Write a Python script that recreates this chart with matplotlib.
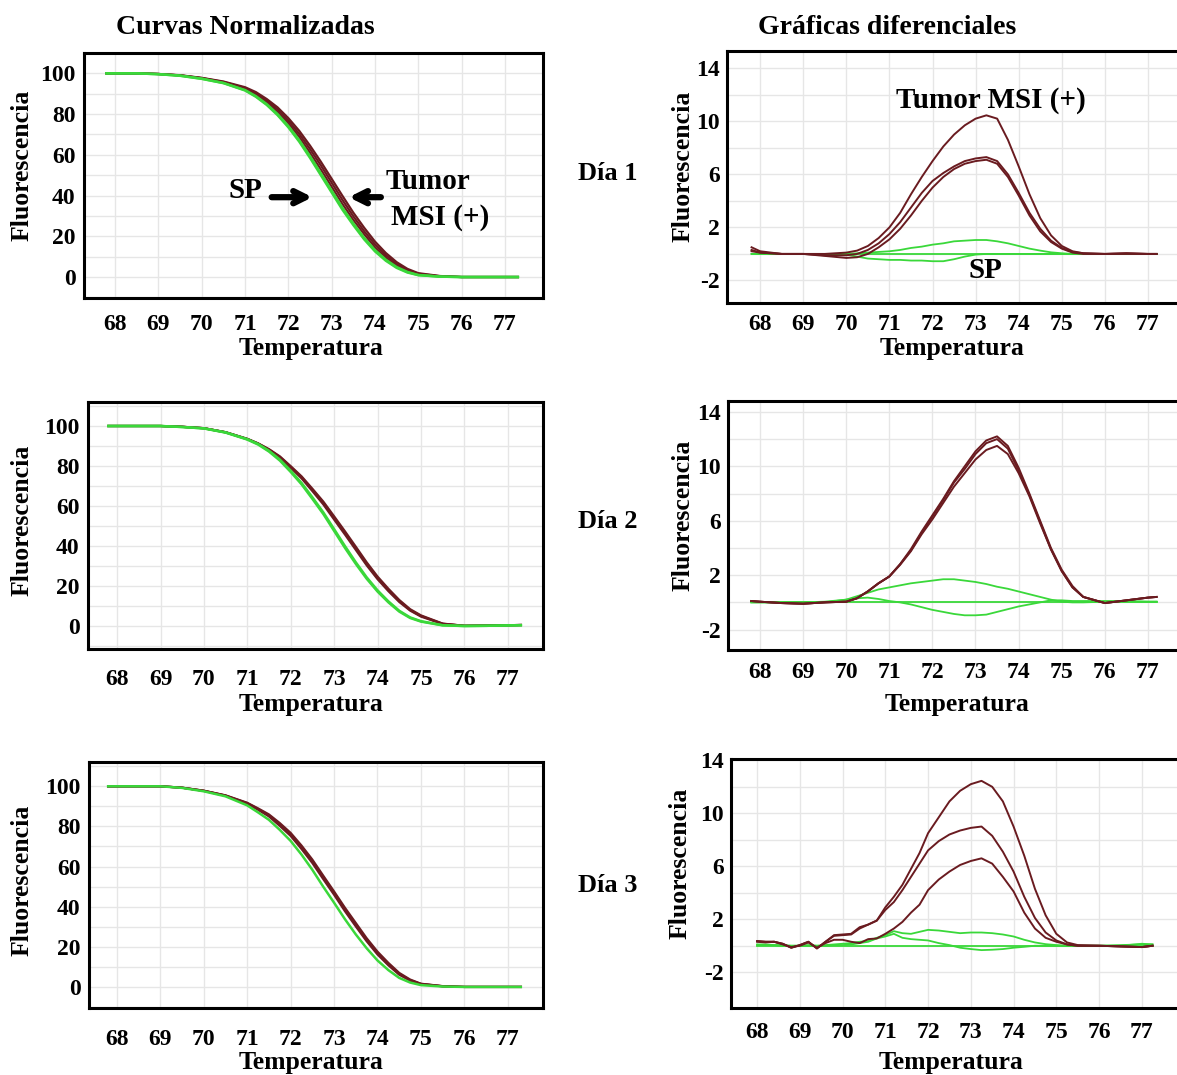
import matplotlib
matplotlib.use("Agg")
import matplotlib.pyplot as plt

plt.rcParams['font.family'] = ['Liberation Serif', 'DejaVu Serif']
plt.rcParams['font.weight'] = 'bold'
plt.rcParams['axes.labelweight'] = 'bold'
plt.rcParams['axes.unicode_minus'] = False

W, H = 1177, 1075
BROWN = '#6a1b20'
GREEN = '#3ad83a'

# ------------------ data: normalized curves ------------------ #
temp_norm = [67.8, 68.5, 69.0, 69.5, 70.0, 70.5, 71.0, 71.25, 71.5, 71.75, 72.0, 72.25, 72.5,
             72.75, 73.0, 73.25, 73.5, 73.75, 74.0, 74.25, 74.5, 74.75, 75.0, 75.5, 76.0, 76.5, 77.3]

norm_d1_sp = [
    [100, 100, 99.6, 98.8, 97.3, 95.2, 91.6, 88.5, 84.5, 79.5, 73.5, 66.5, 58.5, 50.0, 41.5, 33.0, 25.5, 18.5, 12.6, 8.0, 4.5, 2.2, 0.9, 0.2, 0, 0, 0],
    [100, 100, 99.6, 98.9, 97.4, 95.3, 91.8, 88.8, 84.9, 80.0, 74.1, 67.2, 59.3, 50.9, 42.4, 33.9, 26.3, 19.2, 13.2, 8.5, 4.9, 2.5, 1.0, 0.2, 0, 0, 0],
]
norm_d1_msi = [
    [100, 100, 99.7, 99.0, 97.6, 95.6, 92.4, 89.6, 85.8, 81.2, 75.5, 68.8, 61.0, 52.8, 44.3, 35.8, 28.0, 21.0, 14.6, 9.6, 5.7, 3.0, 1.3, 0.3, 0, 0, 0],
    [100, 100, 99.7, 99.0, 97.7, 95.8, 92.8, 90.2, 86.6, 82.3, 76.8, 70.3, 62.8, 54.8, 46.3, 37.8, 29.8, 22.5, 16.0, 10.7, 6.5, 3.5, 1.6, 0.4, 0, 0, 0],
    [100, 100, 99.7, 99.1, 97.8, 96.0, 93.2, 90.8, 87.4, 83.3, 78.0, 71.8, 64.5, 56.6, 48.2, 39.8, 31.6, 24.2, 17.4, 11.8, 7.3, 4.0, 1.9, 0.5, 0, 0, 0],
]

norm_d2_sp = [
    [100, 100, 100, 99.5, 98.8, 96.7, 93.2, 90.7, 87.2, 82.7, 77.0, 70.8, 63.5, 56.0, 47.5, 39.0, 31.0, 23.6, 17.2, 11.8, 7.2, 4.0, 2.2, 0.3, 0, 0.1, 0.4],
    [100, 100, 100, 99.5, 98.8, 96.8, 93.4, 91.0, 87.6, 83.2, 77.6, 71.5, 64.3, 56.8, 48.4, 39.9, 31.8, 24.3, 17.8, 12.3, 7.6, 4.3, 2.4, 0.4, 0, 0.1, 0.4],
]
norm_d2_msi = [
    [100, 100, 100, 99.6, 98.9, 96.9, 93.5, 91.2, 88.2, 84.5, 79.5, 74.3, 68.0, 61.5, 54.0, 46.5, 38.8, 31.0, 24.0, 18.0, 12.5, 8.0, 5.0, 1.1, 0.1, 0.2, 0.5],
    [100, 100, 100, 99.6, 98.9, 96.9, 93.6, 91.3, 88.4, 84.8, 79.9, 74.8, 68.6, 62.2, 54.8, 47.3, 39.6, 31.8, 24.7, 18.6, 13.0, 8.4, 5.3, 1.2, 0.1, 0.2, 0.5],
    [100, 100, 100, 99.6, 98.9, 96.8, 93.4, 91.1, 88.0, 84.2, 79.1, 73.8, 67.4, 60.8, 53.2, 45.7, 38.0, 30.3, 23.4, 17.4, 12.0, 7.7, 4.7, 1.0, 0.1, 0.2, 0.5],
]

norm_d3_sp = [
    [100, 100, 100, 99.2, 97.5, 95.0, 90.5, 87.0, 83.3, 78.3, 72.8, 66.0, 58.4, 50.0, 42.0, 33.8, 26.2, 19.3, 13.2, 8.4, 4.5, 2.2, 0.9, 0.2, 0, 0, 0],
]
norm_d3_msi = [
    [100, 100, 100, 99.3, 97.7, 95.3, 91.4, 88.3, 85.0, 80.3, 75.3, 68.8, 61.8, 53.8, 46.0, 37.8, 30.2, 22.8, 16.2, 10.8, 6.1, 3.2, 1.4, 0.3, 0, 0, 0],
    [100, 100, 100, 99.3, 97.8, 95.4, 91.6, 88.7, 85.5, 81.0, 76.0, 69.6, 62.7, 54.7, 46.8, 38.6, 31.0, 23.5, 16.9, 11.4, 6.5, 3.4, 1.5, 0.35, 0, 0, 0],
    [100, 100, 100, 99.3, 97.8, 95.5, 91.8, 89.0, 86.0, 81.7, 76.8, 70.5, 63.5, 55.5, 47.6, 39.5, 31.9, 24.3, 17.6, 12.0, 7.0, 3.7, 1.6, 0.4, 0, 0, 0],
]

# ------------------ data: derivative curves ------------------ #
temp_diff = [67.8, 68.0, 68.5, 69.0, 69.5, 70.0, 70.25, 70.5, 70.75, 71.0, 71.25, 71.5, 71.75, 72.0, 72.25, 72.5,
             72.75, 73.0, 73.25, 73.5, 73.75, 74.0, 74.25, 74.5, 74.75, 75.0, 75.25, 75.5, 76.0, 76.5, 77.0, 77.2]

diff_d1_sp = [
    [0, 0, 0, 0, 0, 0, 0.05, 0.1, 0.15, 0.2, 0.3, 0.45, 0.55, 0.7, 0.8, 0.95, 1.0, 1.05, 1.05, 0.95, 0.8, 0.6, 0.4, 0.25, 0.12, 0.05, 0, 0, 0, 0, 0, 0],
    [0, 0, 0, 0, 0, -0.05, -0.2, -0.35, -0.4, -0.45, -0.45, -0.5, -0.5, -0.55, -0.55, -0.4, -0.2, -0.05, 0, 0, 0, 0, 0, 0, 0, 0, 0, 0, 0, 0, 0, 0],
    [0, 0, 0, 0, 0, 0, 0, 0, 0, 0, 0, 0, 0, 0, 0, 0, 0, 0, 0, 0, 0, 0, 0, 0, 0, 0, 0, 0, 0, 0, 0, 0],
]
diff_d1_msi = [
    [0.5, 0.2, 0.0, 0.0, 0.0, 0.1, 0.25, 0.6, 1.2, 2.0, 3.1, 4.5, 5.8, 7.0, 8.1, 9.0, 9.7, 10.2, 10.45, 10.2, 8.6, 6.6, 4.5, 2.7, 1.4, 0.6, 0.2, 0.05, 0, 0.05, 0, 0],
    [0.3, 0.1, 0, 0, -0.1, -0.1, 0.0, 0.3, 0.8, 1.5, 2.4, 3.5, 4.6, 5.5, 6.1, 6.6, 7.0, 7.2, 7.3, 7.0, 6.0, 4.6, 3.1, 1.9, 1.0, 0.45, 0.15, 0.05, 0, 0.05, 0, 0],
    [0.2, 0.1, 0, 0, -0.15, -0.3, -0.25, 0.0, 0.5, 1.1, 1.9, 2.9, 4.0, 5.0, 5.8, 6.4, 6.8, 7.0, 7.1, 6.8, 5.8, 4.4, 2.9, 1.7, 0.9, 0.4, 0.1, 0, 0, 0, 0, 0],
]

diff_d2_sp = [
    [0, 0, 0, 0, 0, 0.2, 0.45, 0.7, 0.95, 1.1, 1.25, 1.4, 1.5, 1.6, 1.7, 1.7, 1.6, 1.5, 1.35, 1.15, 1.0, 0.8, 0.6, 0.4, 0.2, 0.05, 0, 0, 0.05, 0.05, 0.05, 0.05],
    [0, 0, 0, 0, 0.05, 0.2, 0.3, 0.35, 0.25, 0.1, 0, -0.15, -0.35, -0.55, -0.7, -0.85, -0.95, -0.95, -0.9, -0.7, -0.5, -0.3, -0.15, 0, 0.15, 0.15, 0.1, 0.1, 0.1, 0.1, 0.05, 0.05],
    [0, 0, 0, 0, 0, 0, 0, 0, 0, 0, 0, 0, 0, 0, 0, 0, 0, 0, 0, 0, 0, 0, 0, 0, 0, 0, 0, 0, 0, 0, 0, 0],
]
diff_d2_msi = [
    [0.1, 0.05, -0.05, -0.1, 0, 0.05, 0.3, 0.8, 1.4, 1.9, 2.8, 3.9, 5.2, 6.4, 7.6, 8.9, 10.0, 11.1, 11.9, 12.2, 11.5, 9.9, 8.0, 6.0, 4.0, 2.4, 1.2, 0.4, -0.05, 0.15, 0.35, 0.4],
    [0.1, 0.05, -0.05, -0.1, 0, 0.05, 0.3, 0.8, 1.4, 1.9, 2.8, 3.8, 5.1, 6.3, 7.5, 8.8, 9.8, 10.9, 11.7, 12.0, 11.3, 9.7, 7.9, 5.9, 3.9, 2.3, 1.1, 0.4, -0.05, 0.15, 0.35, 0.4],
    [0.1, 0.05, -0.05, -0.1, 0, 0.05, 0.3, 0.8, 1.4, 1.9, 2.75, 3.75, 5.0, 6.1, 7.3, 8.5, 9.5, 10.5, 11.2, 11.5, 10.9, 9.5, 7.8, 5.8, 3.9, 2.3, 1.1, 0.4, -0.05, 0.15, 0.35, 0.4],
]

temp_diff3 = [68.0, 68.2, 68.4, 68.6, 68.8, 69.0, 69.2, 69.4, 69.6, 69.8, 70.0, 70.2, 70.4, 70.6, 70.8, 71.0, 71.2, 71.4, 71.6,
              71.8, 72.0, 72.25, 72.5, 72.75, 73.0, 73.25, 73.5, 73.75, 74.0, 74.25, 74.5, 74.75, 75.0, 75.25, 75.5, 76.0, 76.5, 77.0, 77.25]

diff_d3_sp = [
    [0.1, 0.1, 0.05, 0.05, 0, 0, 0.05, 0, 0.05, 0.1, 0.15, 0.2, 0.3, 0.35, 0.6, 0.8, 1.1, 0.95, 0.9, 1.05, 1.2, 1.15, 1.05, 0.95, 1.0, 1.0, 0.95, 0.85, 0.7, 0.45, 0.25, 0.12, 0.05, 0, 0, 0, 0, 0.15, 0.1],
    [0.05, 0.05, 0.05, 0, 0, 0, 0, 0, 0, 0.05, 0.05, 0.1, 0.2, 0.3, 0.55, 0.7, 0.9, 0.6, 0.5, 0.45, 0.4, 0.2, 0.05, -0.15, -0.25, -0.33, -0.3, -0.25, -0.15, -0.08, 0, 0, 0, 0, 0, 0, 0.05, 0.1, 0.1],
    [0, 0, 0, 0, 0, 0, 0, 0, 0, 0, 0, 0, 0, 0, 0, 0, 0, 0, 0, 0, 0, 0, 0, 0, 0, 0, 0, 0, 0, 0, 0, 0, 0, 0, 0, 0, 0, 0, 0],
]
diff_d3_msi = [
    [0.35, 0.3, 0.3, 0.15, -0.15, 0.05, 0.3, -0.2, 0.3, 0.8, 0.85, 0.9, 1.4, 1.6, 1.9, 2.9, 3.7, 4.6, 5.8, 7.0, 8.5, 9.7, 10.9, 11.7, 12.2, 12.45, 12.0, 10.9, 9.0, 6.8, 4.3, 2.3, 0.9, 0.25, 0.05, 0, -0.05, -0.1, 0.0],
    [0.35, 0.3, 0.3, 0.15, -0.15, 0.05, 0.3, -0.2, 0.3, 0.75, 0.8, 0.85, 1.3, 1.6, 1.9, 2.7, 3.3, 4.2, 5.2, 6.2, 7.2, 7.9, 8.4, 8.7, 8.9, 9.0, 8.3, 7.1, 5.6, 3.7, 2.1, 1.0, 0.4, 0.1, 0.0, 0, -0.05, -0.1, 0.0],
    [0.3, 0.25, 0.3, 0.1, -0.1, 0.0, 0.25, -0.15, 0.2, 0.45, 0.45, 0.3, 0.2, 0.5, 0.55, 0.9, 1.3, 1.8, 2.5, 3.1, 4.2, 5.0, 5.6, 6.1, 6.4, 6.6, 6.2, 5.2, 4.1, 2.5, 1.3, 0.6, 0.3, 0.1, 0, 0, -0.05, -0.1, 0.0],
]

temp_ticks = list(range(68, 78))
norm_ticks = [0, 20, 40, 60, 80, 100]
diff_ticks = [-2, 2, 6, 10, 14]
day_labels = ['Día 1', 'Día 2', 'Día 3']

fig = plt.figure(figsize=(W / 100, H / 100), dpi=100)


# ------------------ helpers ------------------ #
def add_panel(box, xlim, ylim, xpad, ypad):
    l, t, r, b = box
    ax = fig.add_axes([l / W, 1 - b / H, (r - l) / W, (b - t) / H])
    ax.set_xlim(*xlim)
    ax.set_ylim(*ylim)
    for sp in ax.spines.values():
        sp.set_linewidth(2.2)
        sp.set_color('black')
    ax.set_xticks(temp_ticks)
    ax.tick_params(axis='x', length=0, labelsize=17, pad=xpad)
    ax.tick_params(axis='y', length=0, labelsize=17, pad=ypad)
    ax.grid(True, which='both', color='#e6e6e6', lw=1)
    ax.set_axisbelow(True)
    return ax


def place_labels(ax, box, xlab_px, ylab_px):
    l, t, r, b = box
    ax.set_xlabel('Temperatura', fontsize=18.5, fontweight='bold')
    ax.set_ylabel('Fluorescencia', fontsize=18.5, fontweight='bold')
    ax.xaxis.set_label_coords((xlab_px[0] - l) / (r - l), (b - xlab_px[1]) / (b - t))
    ax.xaxis.label.set_va('center')
    ax.yaxis.set_label_coords((ylab_px[0] - l) / (r - l), (b - ylab_px[1]) / (b - t))
    ax.yaxis.label.set_va('center')


def draw_norm(ax, sp_curves, msi_curves):
    for c in msi_curves:
        ax.plot(temp_norm, c, color=BROWN, lw=1.6)
    for c in sp_curves:
        ax.plot(temp_norm, c, color=GREEN, lw=1.8)
    ax.set_yticks(norm_ticks)
    ax.set_yticks([-10, 10, 30, 50, 70, 90, 110], minor=True)
    ax.tick_params(which='minor', length=0)


def draw_diff(ax, temps, sp_curves, msi_curves):
    for c in sp_curves:
        ax.plot(temps, c, color=GREEN, lw=1.3)
    for c in msi_curves:
        ax.plot(temps, c, color=BROWN, lw=1.4)
    ax.set_yticks(diff_ticks)
    ax.set_yticks([0, 4, 8, 12], minor=True)
    ax.tick_params(which='minor', length=0)


# ------------------ left column: normalized ------------------ #
L1 = (84, 53, 543, 298)
L2 = (88, 402, 543, 649)
L3 = (89, 762, 543, 1008)

ax = add_panel(L1, (67.28, 77.88), (-10.3, 109.8), 11.5, 6)
draw_norm(ax, norm_d1_sp, norm_d1_msi)
place_labels(ax, L1, (311, 348), (22, 165))
ax.text(71.0, 42.6, 'SP', fontsize=21, ha='center', va='center')
ax.annotate('', xy=(72.62, 39.2), xytext=(71.55, 39.2),
            arrowprops=dict(arrowstyle='->', lw=4.5, color='black', mutation_scale=22))
ax.annotate('', xy=(73.33, 39.2), xytext=(74.2, 39.2),
            arrowprops=dict(arrowstyle='->', lw=4.5, color='black', mutation_scale=22))
ax.text(75.22, 47.0, 'Tumor', fontsize=21, ha='center', va='center')
ax.text(75.5, 29.4, 'MSI (+)', fontsize=21, ha='center', va='center')

ax = add_panel(L2, (67.33, 77.81), (-11.5, 112), 14.4, 6)
draw_norm(ax, norm_d2_sp, norm_d2_msi)
place_labels(ax, L2, (311, 704), (22, 520))

ax = add_panel(L3, (67.36, 77.81), (-10.5, 112.1), 15, 6)
draw_norm(ax, norm_d3_sp, norm_d3_msi)
place_labels(ax, L3, (311, 1062), (22, 880))

# ------------------ right column: derivative ------------------ #
R1 = (727, 51, 1182, 303)
R2 = (728, 401, 1182, 650)
R3 = (731, 759, 1182, 1008)

ax = add_panel(R1, (67.23, 77.79), (-3.7, 15.3), 8, 5)
draw_diff(ax, temp_diff, diff_d1_sp, diff_d1_msi)
place_labels(ax, R1, (952, 348), (683, 166))
ax.text(73.36, 11.57, 'Tumor MSI (+)', fontsize=21, ha='center', va='center')
ax.text(73.22, -1.26, 'SP', fontsize=21, ha='center', va='center')

ax = add_panel(R2, (67.26, 77.79), (-3.5, 14.8), 8.7, 5)
draw_diff(ax, temp_diff, diff_d2_sp, diff_d2_msi)
place_labels(ax, R2, (957, 704), (683, 515))

ax = add_panel(R3, (67.39, 77.94), (-4.7, 14.1), 10, 5)
draw_diff(ax, temp_diff3, diff_d3_sp, diff_d3_msi)
place_labels(ax, R3, (951, 1062), (680, 863))

# ------------------ titles ------------------ #
fig.text(245 / W, 1 - 27 / H, 'Curvas Normalizadas', fontsize=20, ha='center', va='center')
fig.text(887 / W, 1 - 28 / H, 'Gráficas diferenciales', fontsize=20, ha='center', va='center')
for lab, y in zip(day_labels, [173, 521, 886]):
    fig.text(608 / W, 1 - y / H, lab, fontsize=19, ha='center', va='center')

fig.savefig('out.png', dpi=100)
